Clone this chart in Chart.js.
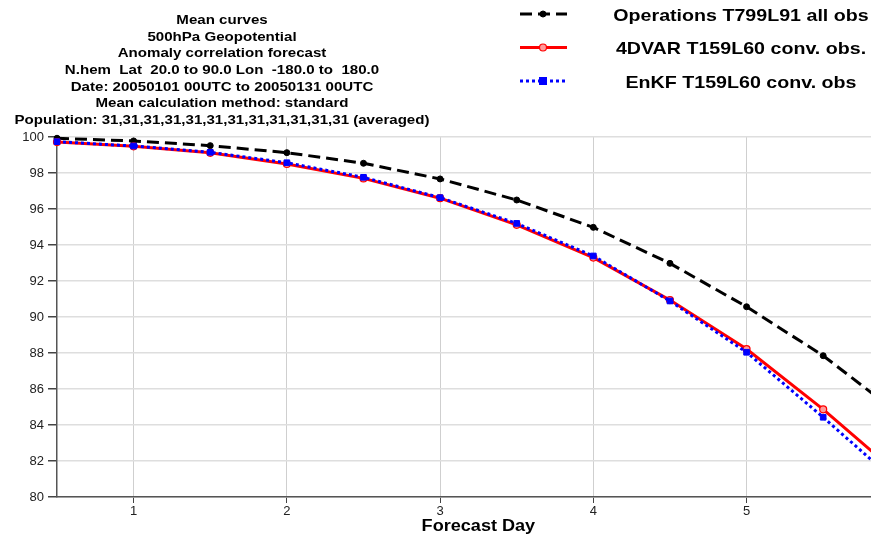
<!DOCTYPE html>
<html>
<head>
<meta charset="utf-8">
<script src="https://cdn.jsdelivr.net/npm/chart.js@4.4.1/dist/chart.umd.min.js"></script>
<style>
html,body{margin:0;padding:0;overflow:hidden;background:#fff;width:871px;height:535px;}
#wrap{position:absolute;left:0;top:0;width:905px;height:535px;}
</style>
</head>
<body>
<div id="wrap"><canvas id="c" width="905" height="535"></canvas></div>
<script>
const forecastDays = [0.5, 1, 1.5, 2, 2.5, 3, 3.5, 4, 4.5, 5, 5.5, 6];
const operations = [99.93, 99.78, 99.52, 99.13, 98.54, 97.67, 96.50, 94.98, 92.98, 90.57, 87.85, 84.58];
const fourDVar  = [99.72, 99.48, 99.12, 98.50, 97.70, 96.60, 95.12, 93.30, 90.94, 88.22, 84.87, 81.20];
const enkf      = [99.74, 99.50, 99.15, 98.57, 97.76, 96.63, 95.20, 93.39, 90.89, 88.04, 84.43, 80.66];
const xTickValues = [1, 2, 3, 4, 5];
const yTickValues = [80, 82, 84, 86, 88, 90, 92, 94, 96, 98, 100];
const titleLines = [
  "Mean curves",
  "500hPa Geopotential",
  "Anomaly correlation forecast",
  "N.hem  Lat  20.0 to 90.0 Lon  -180.0 to  180.0",
  "Date: 20050101 00UTC to 20050131 00UTC",
  "Mean calculation method: standard",
  "Population: 31,31,31,31,31,31,31,31,31,31,31,31 (averaged)"
];
const seriesNames = ["Operations T799L91 all obs", "4DVAR T159L60 conv. obs.", "EnKF T159L60 conv. obs"];
const xAxisTitle = "Forecast Day";

const pts = arr => forecastDays.map((d, i) => ({x: d, y: arr[i]}));

const FONT = "'Liberation Sans', Arial, Helvetica, sans-serif";

function stretchedText(ctx, text, cx, y, sx) {
  ctx.save();
  ctx.translate(cx, y);
  ctx.scale(sx, 1);
  ctx.fillText(text, 0, 0);
  ctx.restore();
}

const headerPlugin = {
  id: 'header',
  afterDraw(chart) {
    const ctx = chart.ctx;
    ctx.save();
    ctx.fillStyle = '#000';
    ctx.textAlign = 'center';
    ctx.textBaseline = 'alphabetic';
    ctx.font = "bold 13px " + FONT;
    titleLines.forEach((t, i) => stretchedText(ctx, t, 222, 24 + i * 16.67, 1.16));
    // x axis title
    const xs = chart.scales.x;
    ctx.font = "bold 16px " + FONT;
    stretchedText(ctx, xAxisTitle, (xs.left + xs.right) / 2, 531, 1.13);
    // legend
    const ys = [14, 47.5, 81];
    chart.data.datasets.forEach((ds, i) => {
      const y = ys[i];
      ctx.save();
      ctx.strokeStyle = ds.borderColor;
      ctx.lineWidth = ds.borderWidth;
      ctx.setLineDash(ds.borderDash || []);
      ctx.beginPath();
      ctx.moveTo(520, y);
      ctx.lineTo(567, y);
      ctx.stroke();
      ctx.setLineDash([]);
      ctx.fillStyle = ds.pointBackgroundColor;
      ctx.strokeStyle = ds.pointBorderColor;
      ctx.lineWidth = ds.pointBorderWidth;
      if (ds.pointStyle === 'rect') {
        const r = ds.pointRadius;
        ctx.fillRect(543 - r, y - r, 2 * r, 2 * r);
      } else {
        ctx.beginPath();
        ctx.arc(543, y, ds.pointRadius, 0, Math.PI * 2);
        ctx.fill();
        ctx.stroke();
      }
      ctx.restore();
      ctx.fillStyle = '#000';
      ctx.font = "bold 17px " + FONT;
      ctx.textAlign = 'center';
      stretchedText(ctx, seriesNames[i], 741, y + 6.5, 1.155);
    });
    ctx.restore();
  }
};

new Chart(document.getElementById('c'), {
  type: 'line',
  data: {
    datasets: [
      {
        label: seriesNames[0],
        data: pts(operations),
        borderColor: '#000',
        borderWidth: 3,
        borderDash: [12, 6],
        pointRadius: 3,
        pointStyle: 'circle',
        pointBackgroundColor: '#000',
        pointBorderColor: '#000',
        pointBorderWidth: 1,
        tension: 0,
        order: 2
      },
      {
        label: seriesNames[1],
        data: pts(fourDVar),
        borderColor: '#ff0000',
        borderWidth: 3,
        pointRadius: 3.5,
        pointStyle: 'circle',
        pointBackgroundColor: '#ff9a9a',
        pointBorderColor: '#ff0000',
        pointBorderWidth: 1.2,
        tension: 0,
        order: 1
      },
      {
        label: seriesNames[2],
        data: pts(enkf),
        borderColor: '#0000ff',
        borderWidth: 3,
        borderDash: [3, 3],
        pointRadius: 4,
        pointStyle: 'rect',
        pointBackgroundColor: '#0000ff',
        pointBorderColor: '#0000ff',
        pointBorderWidth: 1,
        tension: 0,
        order: 0
      }
    ]
  },
  options: {
    responsive: false,
    animation: false,
    clip: false,
    layout: {padding: {left: 0, right: 0, top: 137, bottom: 0}},
    plugins: {legend: {display: false}, title: {display: false}, tooltip: {enabled: false}},
    scales: {
      x: {
        type: 'linear',
        min: 0.5,
        max: 6,
        afterBuildTicks: s => { s.ticks = xTickValues.map(v => ({value: v})); },
        afterFit: s => { s.height = 38; },
        ticks: {color: '#222', font: {family: FONT, size: 13}, padding: 1, maxRotation: 0, autoSkip: false},
        grid: {color: '#cfcfcf', lineWidth: 1, tickLength: 6, drawTicks: true, tickColor: '#444'},
        border: {color: '#555', width: 1.5},
        title: {display: false}
      },
      y: {
        type: 'linear',
        min: 80,
        max: 100,
        afterBuildTicks: s => { s.ticks = yTickValues.map(v => ({value: v})); },
        afterFit: s => { s.width = 57; },
        ticks: {color: '#222', font: {family: FONT, size: 13}, padding: 4},
        grid: {color: '#dedede', lineWidth: 1.5, tickLength: 9, tickColor: '#444'},
        border: {color: '#555', width: 1.5}
      }
    }
  },
  plugins: [headerPlugin]
});
</script>
</body>
</html>
